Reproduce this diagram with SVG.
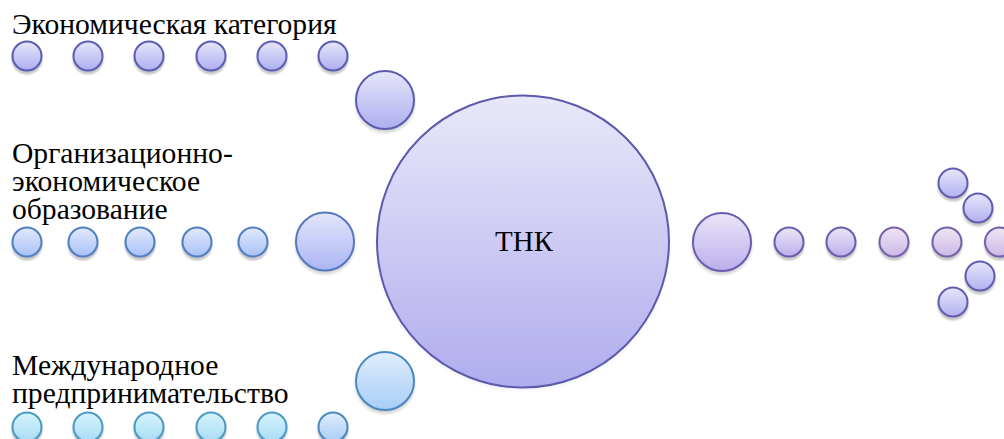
<svg xmlns="http://www.w3.org/2000/svg" width="1004" height="439" viewBox="0 0 1004 439" font-family="Liberation Serif, serif">
<defs>
<radialGradient id="shg" cx="0.5" cy="0.5" r="0.5"><stop offset="0" stop-color="#000" stop-opacity="0.22"/><stop offset="0.82" stop-color="#000" stop-opacity="0.22"/><stop offset="1" stop-color="#000" stop-opacity="0"/></radialGradient>
<linearGradient id="gTop" x1="0" y1="0" x2="0" y2="1"><stop offset="0" stop-color="#e6e6fa"/><stop offset="1" stop-color="#aeaef0"/></linearGradient>
<linearGradient id="gMid" x1="0" y1="0" x2="0" y2="1"><stop offset="0" stop-color="#e2eafb"/><stop offset="1" stop-color="#a9c1f6"/></linearGradient>
<linearGradient id="gMidB" x1="0" y1="0" x2="0" y2="1"><stop offset="0" stop-color="#e4e6fb"/><stop offset="1" stop-color="#aab6f4"/></linearGradient>
<linearGradient id="gBot" x1="0" y1="0" x2="0" y2="1"><stop offset="0" stop-color="#d6f3fb"/><stop offset="1" stop-color="#a8dcf6"/></linearGradient>
<linearGradient id="gBotB" x1="0" y1="0" x2="0" y2="1"><stop offset="0" stop-color="#e0eefc"/><stop offset="1" stop-color="#a8cdf7"/></linearGradient>
<linearGradient id="gC" x1="0" y1="0" x2="0" y2="1"><stop offset="0" stop-color="#e9e8f9"/><stop offset="1" stop-color="#b1acee"/></linearGradient>
<linearGradient id="gR" x1="0" y1="0" x2="0" y2="1"><stop offset="0" stop-color="#ebe6f7"/><stop offset="1" stop-color="#bcaeec"/></linearGradient>
<linearGradient id="gRp" x1="0" y1="0" x2="0" y2="1"><stop offset="0" stop-color="#efe6f4"/><stop offset="1" stop-color="#cbb8e6"/></linearGradient>
<linearGradient id="gRb" x1="0" y1="0" x2="0" y2="1"><stop offset="0" stop-color="#e6e6fa"/><stop offset="1" stop-color="#b3b0f0"/></linearGradient>
</defs>
<g id="connectors"></g>
<g id="shadows" fill="url(#shg)">
<circle cx="27" cy="59" r="17"/><circle cx="88" cy="59" r="17"/><circle cx="149" cy="59" r="17"/><circle cx="211" cy="59" r="17"/><circle cx="272" cy="59" r="17"/><circle cx="333" cy="59" r="17"/><circle cx="385" cy="103" r="32"/>
<circle cx="27" cy="245" r="17"/><circle cx="83" cy="245" r="17"/><circle cx="140" cy="245" r="17"/><circle cx="197" cy="245" r="17"/><circle cx="253" cy="245" r="17"/><circle cx="325" cy="244.5" r="32"/>
<circle cx="27" cy="430" r="17"/><circle cx="88" cy="430" r="17"/><circle cx="149" cy="430" r="17"/><circle cx="211" cy="430" r="17"/><circle cx="272" cy="430" r="17"/><circle cx="333" cy="430" r="17"/><circle cx="385" cy="384" r="32"/>
<circle cx="523" cy="244.5" r="149"/>
<circle cx="722" cy="245" r="32"/><circle cx="789" cy="245" r="17"/><circle cx="841" cy="245" r="17"/><circle cx="894" cy="245" r="17"/><circle cx="947" cy="245" r="17"/><circle cx="999.5" cy="245" r="17"/>
<circle cx="953" cy="186" r="17"/><circle cx="978" cy="211" r="17"/><circle cx="980" cy="279" r="17"/><circle cx="953" cy="305" r="17"/>
</g>
<g id="row-economic">
<g fill="url(#gTop)" stroke="#5a5cb4" stroke-width="2">
<circle cx="27" cy="56" r="14.5"/>
<circle cx="88" cy="56" r="14.5"/>
<circle cx="149" cy="56" r="14.5"/>
<circle cx="211" cy="56" r="14.5"/>
<circle cx="272" cy="56" r="14.5"/>
<circle cx="333" cy="56" r="14.5"/>
<circle cx="385" cy="100" r="29"/>
</g>
<text x="12" y="34" font-family="Liberation Serif, serif" font-size="29.6">Экономическая категория</text>
</g>
<g id="row-org">
<g fill="url(#gMid)" stroke="#4f7fc2" stroke-width="2">
<circle cx="27" cy="242" r="14.5"/>
<circle cx="83" cy="242" r="14.5"/>
<circle cx="140" cy="242" r="14.5"/>
<circle cx="197" cy="242" r="14.5"/>
<circle cx="253" cy="242" r="14.5"/>
<circle cx="325" cy="241.5" r="29" fill="url(#gMidB)" stroke="#5577c0"/>
</g>
<text x="12" y="163" font-family="Liberation Serif, serif" font-size="29.6">Организационно-</text>
<text x="12" y="191" font-family="Liberation Serif, serif" font-size="29.6">экономическое</text>
<text x="12" y="219" font-family="Liberation Serif, serif" font-size="29.6">образование</text>
</g>
<g id="row-intl">
<g fill="url(#gBot)" stroke="#4a9ac4" stroke-width="2">
<circle cx="27" cy="427" r="14.5"/>
<circle cx="88" cy="427" r="14.5"/>
<circle cx="149" cy="427" r="14.5"/>
<circle cx="211" cy="427" r="14.5"/>
<circle cx="272" cy="427" r="14.5"/>
<circle cx="333" cy="427" r="14.5" fill="url(#gBotB)" stroke="#4a88c2"/>
<circle cx="385" cy="381" r="29" fill="url(#gBotB)" stroke="#4a88c2"/>
</g>
<text x="12" y="375" font-family="Liberation Serif, serif" font-size="29.6">Международное</text>
<text x="12" y="403" font-family="Liberation Serif, serif" font-size="29.6">предпринимательство</text>
</g>
<g id="tnk">
<circle cx="523" cy="241.5" r="146" fill="url(#gC)" stroke="#5c5aae" stroke-width="2"/>
<text x="524" y="251" text-anchor="middle" font-family="Liberation Serif, serif" font-size="29">ТНК</text>
</g>
<g id="arrow-out">
<g fill="url(#gR)" stroke="#6a5cae" stroke-width="2">
<circle cx="722" cy="242" r="29"/>
<circle cx="789" cy="242" r="14.5"/>
<circle cx="841" cy="242" r="14.5"/>
</g>
<g fill="url(#gRp)" stroke="#7460aa" stroke-width="2">
<circle cx="894" cy="242" r="14.5"/>
<circle cx="947" cy="242" r="14.5"/>
<circle cx="999.5" cy="242" r="14.5"/>
</g>
<g fill="url(#gRb)" stroke="#625cb0" stroke-width="2">
<circle cx="953" cy="183" r="14.5"/>
<circle cx="978" cy="208" r="14.5"/>
<circle cx="980" cy="276" r="14.5"/>
<circle cx="953" cy="302" r="14.5"/>
</g>
</g>
</svg>
